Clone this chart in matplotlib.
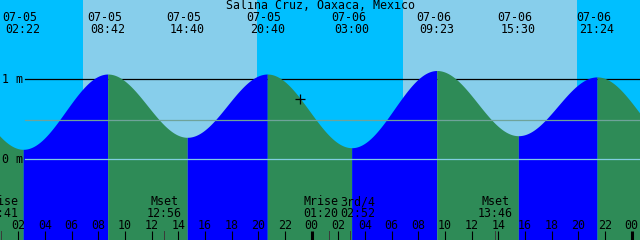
import numpy as np
import matplotlib
matplotlib.use("Agg")
import matplotlib.pyplot as plt
from matplotlib.transforms import blended_transform_factory

# ---------------- data ----------------
title = "Salina Cruz, Oaxaca, Mexico"
# tide extremes (first and last lie outside the visible window)
extreme_times = ["07-04 20:04", "07-05 02:22", "07-05 08:42", "07-05 14:40",
                 "07-05 20:40", "07-06 03:00", "07-06 09:23", "07-06 15:30",
                 "07-06 21:24", "07-07 03:42"]
extreme_levels = [1.05, 0.125, 1.066, 0.275, 1.066, 0.145, 1.11, 0.295, 1.03, 0.15]
labelled = [False, True, True, True, True, True, True, True, True, False]

# daylight periods (sunrise, sunset)
sunrise_times = ["07-05 06:51", "07-06 06:50"]
sunset_times = ["07-05 19:52", "07-06 19:54"]

moon_names = ["Mrise", "Mset", "Mrise", "3rd/4", "Mset"]
moon_times = ["07-05 00:41", "07-05 12:56", "07-06 01:20", "07-06 02:52", "07-06 13:46"]

level_ticks = [0, 1]
level_tick_labels = ["0 m", "1 m"]
mean_level = 0.49
now_time = "07-05 23:07"
now_level = 0.76

# ---------------- helpers ----------------
def hours(s):
    d, hm = s.split()
    day = int(d.split("-")[1])
    h, m = hm.split(":")
    return (day - 5) * 24 + int(h) + int(m) / 60.0

W, H = 640, 240
X0 = 0.625           # hours at left edge
XSPAN = 48.0         # hours across the figure
LEV0_PX, PX_PER_M = 159.3, 80.0
ylim = ((LEV0_PX - H) / PX_PER_M, LEV0_PX / PX_PER_M)

def yf(px):  # pixel-from-top to axes fraction
    return 1 - px / H

NIGHT = "#00bfff"
DAY = "#87ceeb"
RISE = "#0000ff"
FALL = "#2e8b57"
FONT = "DejaVu Sans Mono"
FS = 8.4

fig = plt.figure(figsize=(W / 100, H / 100), dpi=100)
ax = fig.add_axes([0, 0, 1, 1])
ax.set_xlim(X0, X0 + XSPAN)
ax.set_ylim(*ylim)
ax.axis("off")
bt = blended_transform_factory(ax.transData, ax.transAxes)
lt = blended_transform_factory(ax.transAxes, ax.transData)

# sky
ax.axvspan(X0, X0 + XSPAN, color=NIGHT, zorder=0, lw=0)
for sr, ss in zip(sunrise_times, sunset_times):
    ax.axvspan(hours(sr), hours(ss), color=DAY, zorder=0.5, lw=0)

# 1 m line (under the water)
ax.plot([25 / W, 1], [1, 1], transform=lt, color="black", lw=0.9, zorder=1)

# tide curve: cosine interpolation between successive extremes
et = [hours(s) for s in extreme_times]
for i in range(len(et) - 1):
    t0, t1 = et[i], et[i + 1]
    h0, h1 = extreme_levels[i], extreme_levels[i + 1]
    tt = np.linspace(t0, t1, 300)
    hh = h0 + (h1 - h0) * (1 - np.cos(np.pi * (tt - t0) / (t1 - t0))) / 2
    col = RISE if h1 > h0 else FALL
    ax.fill_between(tt, ylim[0], hh, color=col, lw=0, zorder=2)

# datum lines over water
ax.plot([25 / W, 1], [0, 0], transform=lt, color="#80cde0", lw=0.9, zorder=3)
ax.plot([25 / W, 1], [mean_level, mean_level], transform=lt, color="#6fa39a", lw=0.9, zorder=3)

for lv, lab in zip(level_ticks, level_tick_labels):
    ax.text(2.5 / W, lv, lab, transform=lt, ha="left", va="center",
            fontsize=FS, family=FONT, zorder=5)

# current time marker
ax.plot([hours(now_time)], [now_level], marker="+", color="black",
        ms=6.5, mew=0.9, zorder=6)

# title
ax.text(0.5, yf(5.5), title, transform=ax.transAxes, ha="center", va="center",
        fontsize=FS, family=FONT, zorder=5)

# extreme labels at top
for s, show in zip(extreme_times, labelled):
    if not show:
        continue
    t = hours(s)
    d, hm = s.split()
    ax.annotate(d, xy=(t, yf(17.3)), xycoords=bt, xytext=(-3.3, 0),
                textcoords="offset pixels", ha="center", va="center",
                fontsize=FS, family=FONT, zorder=5)
    ax.text(t, yf(29.3), hm, transform=bt, ha="center", va="center",
            fontsize=FS, family=FONT, zorder=5)

# hour ticks along the bottom
for hr in range(2, 49, 2):
    thick = hr % 24 == 0
    ax.plot([hr, hr], [0, yf(231)], transform=bt, color="black",
            lw=2.2 if thick else 0.8, zorder=4, solid_capstyle="butt")
    ax.text(hr, yf(225.5), "%02d" % (hr % 24), transform=bt, ha="center",
            va="center", fontsize=FS, family=FONT, zorder=5)

# moon events
nudge = {2: -8.6, 3: 8.0}
for i, (nm, s) in enumerate(zip(moon_names, moon_times)):
    t = hours(s)
    ax.plot([t, t], [0, yf(231)], transform=bt, color="#3a3a3a", lw=0.7, zorder=4)
    dx = nudge.get(i, 0)
    ax.annotate(nm, xy=(t, yf(201.7)), xycoords=bt, xytext=(dx, 0),
                textcoords="offset pixels", ha="center", va="center",
                fontsize=FS, family=FONT, zorder=5)
    ax.annotate(s.split()[1], xy=(t, yf(213.7)), xycoords=bt, xytext=(dx, 0),
                textcoords="offset pixels", ha="center", va="center",
                fontsize=FS, family=FONT, zorder=5)

fig.savefig("out.png", dpi=100)
